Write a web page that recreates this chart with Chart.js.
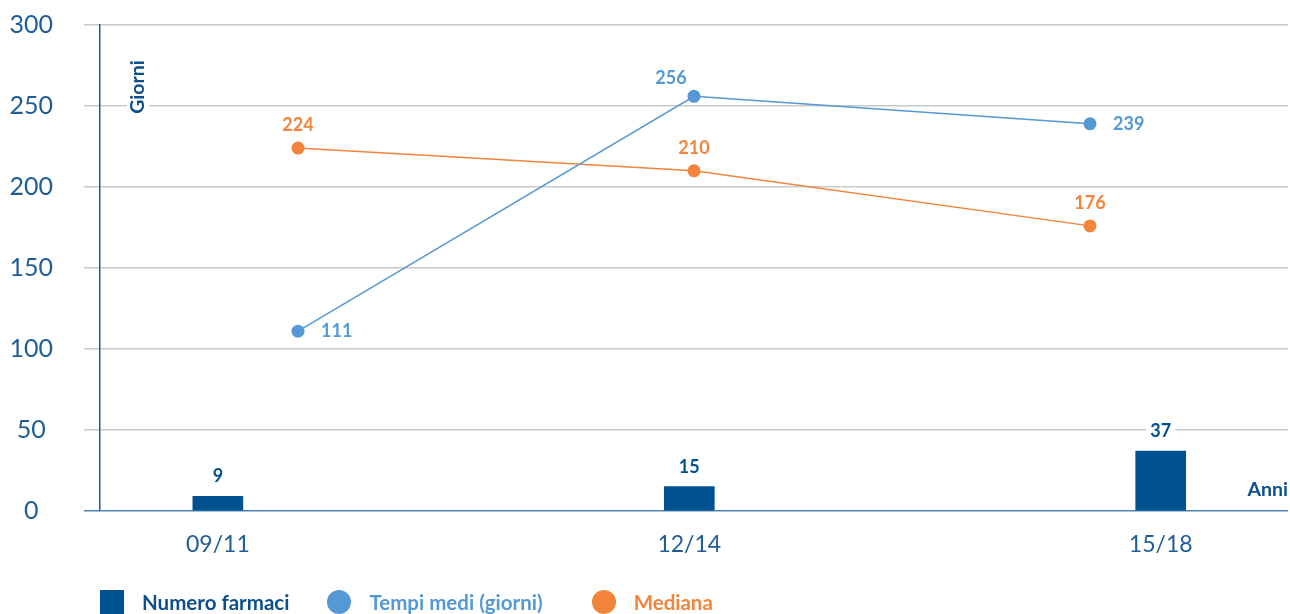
<!DOCTYPE html>
<html>
<head>
<meta charset="utf-8">
<script src="https://cdn.jsdelivr.net/npm/chart.js@4.4.1/dist/chart.umd.min.js"></script>
<style>
  body { margin: 0; background: #fff; font-family: Lato, sans-serif; }
  #wrap { position: relative; width: 1290px; height: 614px; }
  #legend { position: absolute; left: 100px; top: 589px; display: flex; align-items: center; height: 25px; }
  .item { display: flex; align-items: center; margin-right: 38px; font-weight: bold; font-size: 20.5px; }
  .item:nth-child(2) { margin-right: 49px; }
  .mark { width: 24px; height: 24px; margin-right: 18px; }
</style>
</head>
<body>
<div id="wrap">
  <canvas id="chart" width="1290" height="614"></canvas>
  <div id="legend"></div>
</div>
<script>
const periods = ['09/11', '12/14', '15/18'];
const numeroFarmaci = [9, 15, 37];
const tempiMedi = [111, 256, 239];
const mediana = [224, 210, 176];
const yTicks = [0, 50, 100, 150, 200, 250, 300];

const navy = '#00518f';
const blue = '#5499d4';
const orange = '#f2843b';
const axisText = '#1f5d96';

// where each value label sits relative to its mark
const labelSpots = [
  ['up', 'up', 'up'],
  ['right', 'upleft', 'right'],
  ['up', 'up', 'up']
];

function tag(ctx, text, x, y, color, align){
  ctx.save();
  ctx.font = 'bold 18px Lato';
  const w = ctx.measureText(text).width;
  const left = align === 'left' ? x : x - w / 2;
  ctx.fillStyle = '#fff';
  ctx.fillRect(left - 4, y - 10, w + 8, 20);
  ctx.fillStyle = color;
  ctx.textAlign = align || 'center';
  ctx.textBaseline = 'middle';
  ctx.fillText(text, x, y);
  ctx.restore();
}

const valueLabels = {
  id: 'valueLabels',
  afterDatasetsDraw(chart){
    const ctx = chart.ctx;
    chart.data.datasets.forEach((ds, di) => {
      const meta = chart.getDatasetMeta(di);
      meta.data.forEach((el, i) => {
        const v = di === 0 ? ds.data[i].y : ds.data[i];
        const spot = labelSpots[di][i];
        if (spot === 'right') tag(ctx, String(v), el.x + 23, el.y, ds.borderColor, 'left');
        else if (spot === 'upleft') tag(ctx, String(v), el.x - 23, el.y - 18, ds.borderColor);
        else tag(ctx, String(v), el.x, el.y - (di === 0 ? 20 : 23), ds.borderColor);
      });
    });

    // axis names
    const area = chart.chartArea;
    ctx.save();
    ctx.font = 'bold 19.5px Lato';
    ctx.translate(138, 87);
    ctx.rotate(-Math.PI / 2);
    const gw = ctx.measureText('Giorni').width;
    ctx.fillStyle = '#fff';
    ctx.fillRect(-gw / 2 - 8, -11, gw + 16, 22);
    ctx.fillStyle = '#0d4f8b';
    ctx.textAlign = 'center';
    ctx.textBaseline = 'middle';
    ctx.fillText('Giorni', 0, 0);
    ctx.restore();

    ctx.save();
    ctx.font = 'bold 19.5px Lato';
    ctx.fillStyle = '#0d4f8b';
    ctx.textAlign = 'right';
    ctx.textBaseline = 'middle';
    ctx.fillText('Anni', area.right, 490);
    ctx.restore();
  }
};

const chart = new Chart(document.getElementById('chart'), {
  data: {
    labels: periods,
    datasets: [
      {
        type: 'bar',
        label: 'Numero farmaci',
        data: numeroFarmaci.map((v, i) => ({ x: i, y: v })),
        xAxisID: 'x',
        backgroundColor: navy,
        borderColor: navy,
        barThickness: 50,
        grouped: false,
        order: 2
      },
      {
        type: 'line',
        label: 'Tempi medi (giorni)',
        data: tempiMedi,
        xAxisID: 'xl',
        borderColor: blue,
        backgroundColor: blue,
        borderWidth: 1.5,
        pointRadius: 6.5,
        pointBorderWidth: 0,
        order: 1
      },
      {
        type: 'line',
        label: 'Mediana',
        data: mediana,
        xAxisID: 'xl',
        borderColor: orange,
        backgroundColor: orange,
        borderWidth: 1.5,
        pointRadius: 6.5,
        pointBorderWidth: 0,
        order: 1
      }
    ]
  },
  options: {
    responsive: false,
    animation: false,
    layout: { autoPadding: false, padding: { top: 25, right: 2, left: 0, bottom: 0 } },
    plugins: { legend: { display: false }, tooltip: { enabled: false } },
    scales: {
      x: {
        type: 'linear',
        min: -0.25,
        max: 2.27,
        offset: false,
        grid: { display: false, drawTicks: false, offset: false },
        border: { display: false },
        afterBuildTicks: s => { s.ticks = periods.map((p, i) => ({ value: i })); },
        afterFit: s => { s.height = 103; s.paddingLeft = 0; s.paddingRight = 0; },
        ticks: {
          callback: v => periods[v],
          font: { family: 'Lato', size: 23 },
          color: axisText,
          padding: 20,
          autoSkip: false,
          maxRotation: 0
        }
      },
      xl: { type: 'category', offset: true, display: false },
      y: {
        min: 0,
        max: 300,
        afterBuildTicks: s => { s.ticks = yTicks.map(v => ({ value: v })); },
        afterFit: s => { s.width = 100; s.paddingTop = 0; s.paddingBottom = 0; },
        grid: {
          color: c => c.tick && c.tick.value === 0 ? '#4f83b5' : '#cacaca',
          tickColor: c => c.tick && c.tick.value === 0 ? '#4f83b5' : '#cacaca',
          tickLength: 16,
          lineWidth: 1.5
        },
        border: { color: '#1d5a94', width: 1.5 },
        ticks: {
          font: { family: 'Lato', size: 25 },
          color: axisText,
          crossAlign: 'center',
          padding: 31
        }
      }
    }
  },
  plugins: [valueLabels]
});

// legend below the plot
const legend = document.getElementById('legend');
chart.data.datasets.forEach(ds => {
  const item = document.createElement('div');
  item.className = 'item';
  const mark = document.createElement('span');
  mark.className = 'mark';
  mark.style.background = ds.backgroundColor;
  if (ds.type === 'line') mark.style.borderRadius = '50%';
  const txt = document.createElement('span');
  txt.textContent = ds.label;
  txt.style.color = ds.borderColor === navy ? '#0d4f8b' : ds.borderColor;
  item.appendChild(mark);
  item.appendChild(txt);
  legend.appendChild(item);
});
</script>
</body>
</html>
